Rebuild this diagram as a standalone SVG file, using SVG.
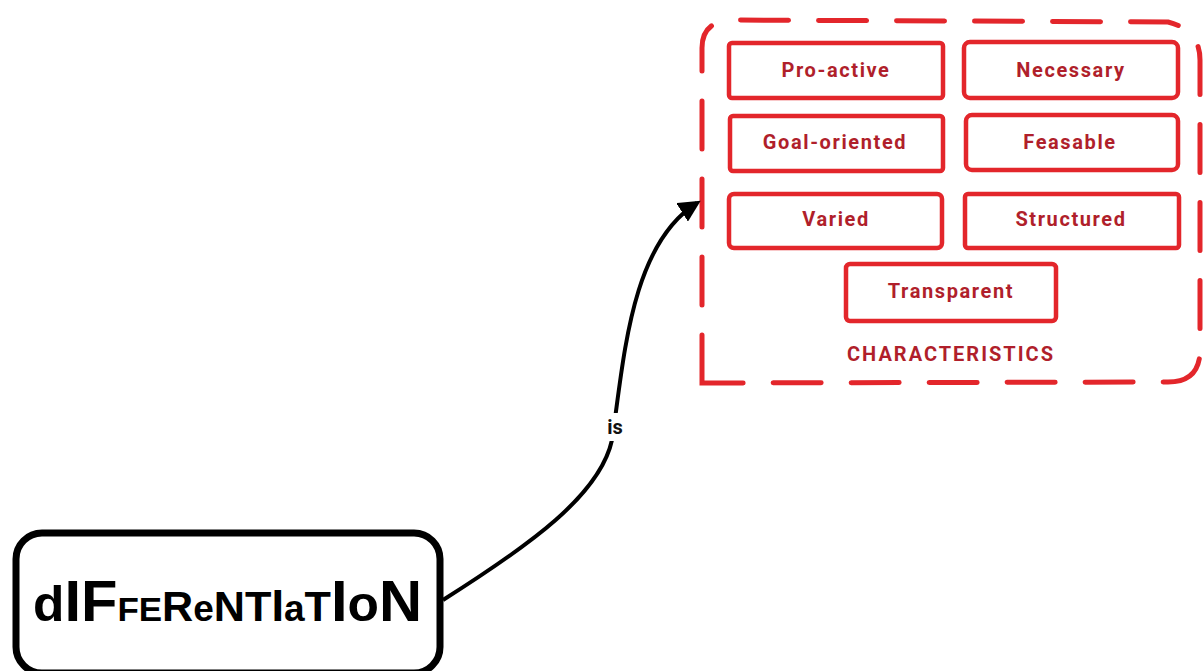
<svg xmlns="http://www.w3.org/2000/svg" width="1203" height="671" viewBox="0 0 1203 671">
  <defs>
    <style>
      .item rect { fill: #ffffff; stroke: #e3262b; stroke-width: 4.5; }
      .item text, .caption { font-family: Roboto, "Liberation Sans", sans-serif; font-weight: bold; font-size: 20px; fill: #b01f2b; text-anchor: middle; dominant-baseline: central; letter-spacing: 1.6px; }
      .caption { letter-spacing: 2px; }
      .group-frame { fill: none; stroke: #e3262b; stroke-width: 5; stroke-dasharray: 48 30; stroke-linecap: round; }
      .link { fill: none; stroke: #000000; stroke-width: 4; }
      .link-label { font-family: Roboto, "Liberation Sans", sans-serif; font-weight: bold; font-size: 20px; fill: #111111; text-anchor: middle; dominant-baseline: central; }
      .main rect { fill: #ffffff; stroke: #000000; stroke-width: 7; }
      .main text { font-family: "Liberation Sans", Arial, sans-serif; font-weight: bold; fill: #000000; }
    </style>
    <marker id="arrow" viewBox="0 0 10 10" refX="8" refY="5" markerWidth="5.5" markerHeight="5.5" orient="auto" markerUnits="strokeWidth">
      <path d="M0,0 L10,5 L0,10 Z" fill="#000000"/>
    </marker>
  </defs>

  <rect width="1203" height="671" fill="#ffffff"/>

  <!-- characteristics container -->
  <g id="characteristics">
    <path class="group-frame" d="M702,383 L702,48 Q702,22 730,20 L1168,22 Q1200,30 1200,60 L1200,350 Q1200,382 1168,382 Z"/>
    <text class="caption" x="951" y="354">CHARACTERISTICS</text>
  </g>

  <g id="pro-active" class="item">
    <rect x="729" y="43" width="214" height="55" rx="3"/>
    <text x="836" y="70">Pro-active</text>
  </g>
  <g id="necessary" class="item">
    <rect x="964" y="42" width="214" height="56" rx="6"/>
    <text x="1071" y="70">Necessary</text>
  </g>
  <g id="goal-oriented" class="item">
    <rect x="730" y="116" width="213" height="55" rx="3"/>
    <text x="835" y="142">Goal-oriented</text>
  </g>
  <g id="feasable" class="item">
    <rect x="966" y="115" width="212" height="55" rx="6"/>
    <text x="1070" y="142">Feasable</text>
  </g>
  <g id="varied" class="item">
    <rect x="729" y="194" width="213" height="54" rx="5"/>
    <text x="836" y="219">Varied</text>
  </g>
  <g id="structured" class="item">
    <rect x="965" y="194" width="214" height="54" rx="3"/>
    <text x="1071" y="219">Structured</text>
  </g>
  <g id="transparent" class="item">
    <rect x="846" y="264" width="210" height="57" rx="4"/>
    <text x="951" y="291">Transparent</text>
  </g>

  <!-- connectors -->
  <g id="connectors">
    <path class="link" marker-end="url(#arrow)" d="M443,600 C530,545 600,495 612,440 C624,360 630,245 697,203"/>
    <rect x="603" y="413" width="24" height="28" fill="#ffffff"/>
    <text class="link-label" x="615" y="427">is</text>
  </g>

  <!-- main concept: mixed-size lettering squeezed to the box width -->
  <g id="differentiation" class="main">
    <rect x="16" y="533" width="424" height="140" rx="26"/>
    <text x="33" y="621" font-size="58" textLength="389" lengthAdjust="spacingAndGlyphs"><tspan font-size="50">d</tspan>IF<tspan font-size="34">FE</tspan><tspan font-size="42">R</tspan><tspan font-size="36">e</tspan><tspan font-size="42">NT</tspan><tspan font-size="44">I</tspan><tspan font-size="36">a</tspan><tspan font-size="42">T</tspan>I<tspan font-size="50">o</tspan>N</text>
  </g>
</svg>
